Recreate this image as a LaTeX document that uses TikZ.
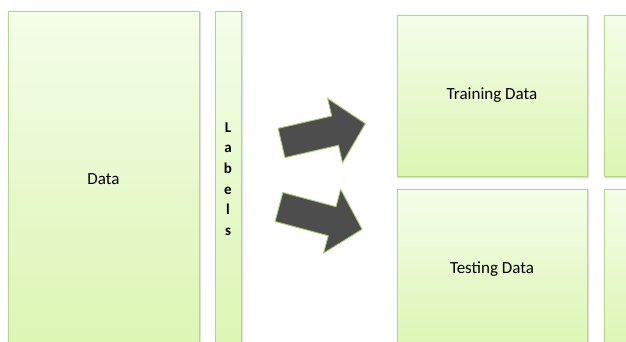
\documentclass[tikz,border=0pt]{standalone}
\usepackage{fontspec}
\setmainfont{Carlito}
\usepackage{xcolor}
\usepackage{tikz}
\usetikzlibrary{positioning,shadows.blur}
\definecolor{paletop}{HTML}{F4FDE9}
\definecolor{palebot}{HTML}{DCF6B3}
\definecolor{edge}{HTML}{B5D68A}
\definecolor{darkfill}{HTML}{4D4D4D}
\definecolor{arrowedge}{HTML}{A8C878}
\tikzset{
  font=\fontsize{17}{20}\selectfont,
  panel/.style={
    rectangle, draw=edge, line width=0.9pt, top color=paletop,
    bottom color=palebot, text=black, align=center, inner sep=0pt,
    blur shadow={shadow xshift=1pt, shadow yshift=-1.5pt, shadow opacity=25}
  },
  tallpanel/.style={panel, minimum height=336pt},
  squarepanel/.style={panel, minimum width=190pt, minimum height=161pt},
  bigarrow/.style={fill=darkfill, draw=arrowedge, line width=0.9pt, line join=miter}
}
\newcommand{\blockarrow}{(0,-15) -- (55,-15) -- (55,-33) -- (86,0) -- (55,33) -- (55,15) -- (0,15) -- cycle}

\begin{document}
\begin{tikzpicture}[x=1pt,y=1pt]
  \clip (0,0) rectangle (626,341);

  % ---- Source ----
  \node[tallpanel, minimum width=191pt] (data) at (103.5,162) {Data};
  \node[tallpanel, minimum width=26pt, font=\bfseries\fontsize{15}{20.6}\selectfont]
     (labels) at (228,162) {L\\a\\b\\e\\l\\s};

  % ---- Split ----
  \node[squarepanel] (train) at (492,245.5) {Training Data};
  \node[squarepanel, right=17pt of train] (trainlab) {};
  \node[squarepanel] (test) at (492,71.5) {Testing Data};
  \node[squarepanel, right=17pt of test] (testlab) {};

  % ---- Arrows ----
  \draw[bigarrow, shift={(281.5,198)}, rotate=13] \blockarrow;
  \draw[bigarrow, shift={(279,134)}, rotate=-15] \blockarrow;
\end{tikzpicture}
\end{document}
